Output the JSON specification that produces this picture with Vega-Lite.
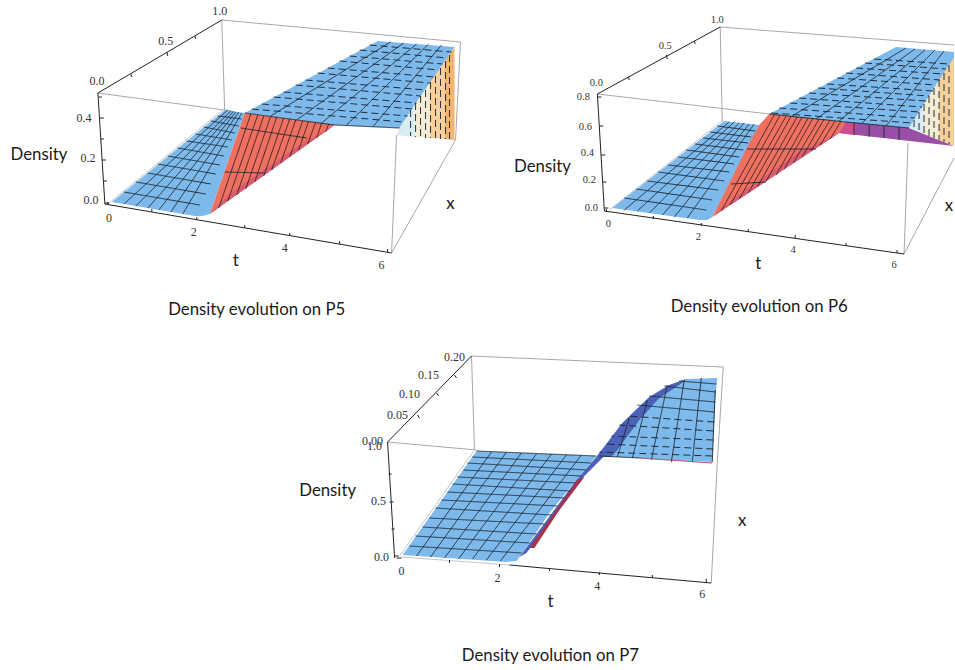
{"$schema":"https://vega.github.io/schema/vega-lite/v6.json","autosize":{"type":"fit","contains":"padding"},"width":955,"height":670,"padding":0,"background":"white","config":{"view":{"stroke":null}},
"resolve":{"scale":{"color":"independent"}},
"datasets":{
"frame":[
{"k":"box","x":98,"y":93,"x2":232,"y2":111},{"k":"box","x":222,"y":20,"x2":225,"y2":112},{"k":"box","x":222,"y":20,"x2":461,"y2":42},{"k":"box","x":461,"y":42,"x2":456,"y2":140},{"k":"box","x":392,"y":253,"x2":397,"y2":135},{"k":"box","x":392,"y":253,"x2":456,"y2":140},{"k":"edge","x":108,"y":204,"x2":224,"y2":109},{"k":"axis","x":105,"y":204,"x2":392,"y2":253},{"k":"axis","x":105,"y":204,"x2":98,"y2":93},{"k":"axis","x":98,"y":93,"x2":222,"y2":20},
{"k":"box","x":598,"y":94,"x2":770,"y2":114},{"k":"box","x":721,"y":27,"x2":723,"y2":122},{"k":"box","x":721,"y":27,"x2":955,"y2":45},{"k":"box","x":905,"y":254,"x2":909,"y2":143},{"k":"box","x":905,"y":254,"x2":955,"y2":158},{"k":"edge","x":610,"y":210,"x2":724,"y2":120},{"k":"axis","x":605,"y":211,"x2":905,"y2":254},{"k":"axis","x":605,"y":211,"x2":598,"y2":94},{"k":"axis","x":598,"y":94,"x2":721,"y2":27},
{"k":"box","x":388,"y":442,"x2":477,"y2":450},{"k":"box","x":472,"y":356,"x2":475,"y2":450},{"k":"box","x":472,"y":356,"x2":724,"y2":367},{"k":"box","x":724,"y":367,"x2":718,"y2":463},{"k":"box","x":712,"y":583,"x2":718,"y2":463},{"k":"edge","x":400,"y":556,"x2":475,"y2":450},{"k":"edge","x":402,"y":557,"x2":510,"y2":565},{"k":"axis","x":510,"y":565,"x2":712,"y2":583},{"k":"axis","x":397,"y":558,"x2":402,"y2":558},{"k":"axis","x":395,"y":558,"x2":388,"y2":442},{"k":"axis","x":388,"y":442,"x2":472,"y2":356},
{"k":"axis","x":108,"y":205,"x2":108,"y2":202},{"k":"axis","x":152,"y":212,"x2":152,"y2":209},{"k":"axis","x":197,"y":220,"x2":197,"y2":217},{"k":"axis","x":245,"y":228,"x2":245,"y2":225},{"k":"axis","x":290,"y":236,"x2":290,"y2":233},{"k":"axis","x":340,"y":244,"x2":340,"y2":241},{"k":"axis","x":388,"y":252,"x2":388,"y2":249},
{"k":"axis","x":105,"y":203,"x2":109,"y2":203},{"k":"axis","x":104,"y":181,"x2":107,"y2":181},{"k":"axis","x":102,"y":160,"x2":106,"y2":160},{"k":"axis","x":101,"y":139,"x2":104,"y2":139},{"k":"axis","x":100,"y":118,"x2":104,"y2":118},{"k":"axis","x":99,"y":97,"x2":102,"y2":97},
{"k":"axis","x":131,"y":74,"x2":132,"y2":77},{"k":"axis","x":167,"y":52,"x2":168,"y2":56},{"k":"axis","x":195,"y":36,"x2":196,"y2":39},
{"k":"axis","x":607,"y":212,"x2":607,"y2":209},{"k":"axis","x":654,"y":219,"x2":654,"y2":216},{"k":"axis","x":702,"y":226,"x2":702,"y2":223},{"k":"axis","x":749,"y":232,"x2":749,"y2":229},{"k":"axis","x":796,"y":238,"x2":796,"y2":235},{"k":"axis","x":847,"y":246,"x2":847,"y2":243},{"k":"axis","x":898,"y":253,"x2":898,"y2":250},
{"k":"axis","x":605,"y":208,"x2":609,"y2":208},{"k":"axis","x":603,"y":182,"x2":607,"y2":182},{"k":"axis","x":602,"y":155,"x2":606,"y2":155},{"k":"axis","x":600,"y":126,"x2":604,"y2":126},{"k":"axis","x":598,"y":97,"x2":602,"y2":97},
{"k":"axis","x":629,"y":77,"x2":630,"y2":80},{"k":"axis","x":667,"y":55,"x2":668,"y2":59},{"k":"axis","x":695,"y":41,"x2":696,"y2":44},
{"k":"axis","x":450,"y":563,"x2":450,"y2":560},{"k":"axis","x":500,"y":567,"x2":500,"y2":564},{"k":"axis","x":550,"y":571,"x2":550,"y2":568},{"k":"axis","x":600,"y":575,"x2":600,"y2":572},{"k":"axis","x":653,"y":578,"x2":653,"y2":575},{"k":"axis","x":707,"y":582,"x2":707,"y2":579},
{"k":"axis","x":395,"y":556,"x2":399,"y2":556},{"k":"axis","x":392,"y":529,"x2":395,"y2":529},{"k":"axis","x":390,"y":502,"x2":394,"y2":502},{"k":"axis","x":389,"y":474,"x2":392,"y2":474},
{"k":"axis","x":418,"y":415,"x2":420,"y2":418},{"k":"axis","x":437,"y":393,"x2":439,"y2":396},{"k":"axis","x":455,"y":375,"x2":457,"y2":378}
],
"polys":[
{"id":"a1","z":"blue","o":1,"x":112,"y":202},{"id":"a1","z":"blue","o":2,"x":225,"y":110},{"id":"a1","z":"blue","o":3,"x":245,"y":113},{"id":"a1","z":"blue","o":4,"x":210,"y":214},{"id":"a1","z":"blue","o":5,"x":203,"y":216},{"id":"a1","z":"blue","o":6,"x":195,"y":216},
{"id":"a2","z":"blue","o":1,"x":245,"y":113},{"id":"a2","z":"blue","o":2,"x":378,"y":41},{"id":"a2","z":"blue","o":3,"x":455,"y":47},{"id":"a2","z":"blue","o":4,"x":400,"y":128},{"id":"a2","z":"blue","o":5,"x":335,"y":125},
{"id":"a3","z":"red","o":1,"x":245,"y":113},{"id":"a3","z":"red","o":2,"x":335,"y":125},{"id":"a3","z":"red","o":3,"x":210,"y":214},
{"id":"a4","z":"pink","o":1,"x":210,"y":214},{"id":"a4","z":"pink","o":2,"x":232,"y":192},{"id":"a4","z":"pink","o":3,"x":300,"y":145},{"id":"a4","z":"pink","o":4,"x":335,"y":125},
{"id":"a5","z":"pale","o":1,"x":400,"y":128},{"id":"a5","z":"pale","o":2,"x":415,"y":105},{"id":"a5","z":"pale","o":3,"x":415,"y":137},{"id":"a5","z":"pale","o":4,"x":397,"y":135},
{"id":"a6","z":"cream","o":1,"x":415,"y":105},{"id":"a6","z":"cream","o":2,"x":430,"y":83},{"id":"a6","z":"cream","o":3,"x":430,"y":138},{"id":"a6","z":"cream","o":4,"x":415,"y":137},
{"id":"a7","z":"peach","o":1,"x":430,"y":83},{"id":"a7","z":"peach","o":2,"x":445,"y":62},{"id":"a7","z":"peach","o":3,"x":445,"y":139},{"id":"a7","z":"peach","o":4,"x":430,"y":138},
{"id":"a8","z":"orange","o":1,"x":445,"y":62},{"id":"a8","z":"orange","o":2,"x":455,"y":47},{"id":"a8","z":"orange","o":3,"x":455,"y":140},{"id":"a8","z":"orange","o":4,"x":445,"y":139},
{"id":"b1","z":"blue","o":1,"x":613,"y":208},{"id":"b1","z":"blue","o":2,"x":725,"y":121},{"id":"b1","z":"blue","o":3,"x":760,"y":125},{"id":"b1","z":"blue","o":4,"x":713,"y":217},{"id":"b1","z":"blue","o":5,"x":708,"y":220},{"id":"b1","z":"blue","o":6,"x":700,"y":220},
{"id":"b2","z":"blue","o":1,"x":770,"y":114},{"id":"b2","z":"blue","o":2,"x":897,"y":47},{"id":"b2","z":"blue","o":3,"x":955,"y":52},{"id":"b2","z":"blue","o":4,"x":955,"y":58},{"id":"b2","z":"blue","o":5,"x":910,"y":128},{"id":"b2","z":"blue","o":6,"x":847,"y":122},
{"id":"b3","z":"red","o":1,"x":713,"y":217},{"id":"b3","z":"red","o":2,"x":750,"y":143},{"id":"b3","z":"red","o":3,"x":760,"y":125},{"id":"b3","z":"red","o":4,"x":770,"y":114},{"id":"b3","z":"red","o":5,"x":847,"y":122},{"id":"b3","z":"red","o":6,"x":840,"y":133},
{"id":"b4","z":"pink","o":1,"x":713,"y":217},{"id":"b4","z":"pink","o":2,"x":735,"y":198},{"id":"b4","z":"pink","o":3,"x":800,"y":152},{"id":"b4","z":"pink","o":4,"x":840,"y":133},
{"id":"b5","z":"purple","o":1,"x":840,"y":133},{"id":"b5","z":"purple","o":2,"x":847,"y":122},{"id":"b5","z":"purple","o":3,"x":910,"y":128},{"id":"b5","z":"purple","o":4,"x":955,"y":146},{"id":"b5","z":"purple","o":5,"x":955,"y":146},
{"id":"b6","z":"magenta","o":1,"x":840,"y":133},{"id":"b6","z":"magenta","o":2,"x":847,"y":122},{"id":"b6","z":"magenta","o":3,"x":858,"y":123},{"id":"b6","z":"magenta","o":4,"x":855,"y":135},
{"id":"b7","z":"pale","o":1,"x":910,"y":128},{"id":"b7","z":"pale","o":2,"x":925,"y":104},{"id":"b7","z":"pale","o":3,"x":925,"y":134},
{"id":"b8","z":"cream","o":1,"x":925,"y":104},{"id":"b8","z":"cream","o":2,"x":940,"y":80},{"id":"b8","z":"cream","o":3,"x":940,"y":140},{"id":"b8","z":"cream","o":4,"x":925,"y":134},
{"id":"b9","z":"peach","o":1,"x":940,"y":80},{"id":"b9","z":"peach","o":2,"x":955,"y":58},{"id":"b9","z":"peach","o":3,"x":955,"y":146},{"id":"b9","z":"peach","o":4,"x":940,"y":140},
{"id":"c1","z":"blue","o":1,"x":403,"y":555},{"id":"c1","z":"blue","o":2,"x":477,"y":451},{"id":"c1","z":"blue","o":3,"x":597,"y":456},{"id":"c1","z":"blue","o":4,"x":577,"y":480},{"id":"c1","z":"blue","o":5,"x":550,"y":513},{"id":"c1","z":"blue","o":6,"x":523,"y":553},{"id":"c1","z":"blue","o":7,"x":517,"y":561},{"id":"c1","z":"blue","o":8,"x":507,"y":562},
{"id":"c2","z":"blue","o":1,"x":597,"y":457},{"id":"c2","z":"blue","o":2,"x":623,"y":423},{"id":"c2","z":"blue","o":3,"x":650,"y":397},{"id":"c2","z":"blue","o":4,"x":670,"y":385},{"id":"c2","z":"blue","o":5,"x":687,"y":379},{"id":"c2","z":"blue","o":6,"x":718,"y":378},{"id":"c2","z":"blue","o":7,"x":716,"y":400},{"id":"c2","z":"blue","o":8,"x":713,"y":462},{"id":"c2","z":"blue","o":9,"x":617,"y":457},
{"id":"c3","z":"indigo","o":1,"x":597,"y":457},{"id":"c3","z":"indigo","o":2,"x":623,"y":423},{"id":"c3","z":"indigo","o":3,"x":650,"y":397},{"id":"c3","z":"indigo","o":4,"x":670,"y":385},{"id":"c3","z":"indigo","o":5,"x":687,"y":379},{"id":"c3","z":"indigo","o":6,"x":680,"y":385},{"id":"c3","z":"indigo","o":7,"x":660,"y":398},{"id":"c3","z":"indigo","o":8,"x":640,"y":420},{"id":"c3","z":"indigo","o":9,"x":618,"y":450},{"id":"c3","z":"indigo","o":10,"x":612,"y":457},
{"id":"c4","z":"indigo","o":1,"x":520,"y":557},{"id":"c4","z":"indigo","o":2,"x":577,"y":480},{"id":"c4","z":"indigo","o":3,"x":597,"y":457},{"id":"c4","z":"indigo","o":4,"x":604,"y":457},{"id":"c4","z":"indigo","o":5,"x":585,"y":476},{"id":"c4","z":"indigo","o":6,"x":556,"y":515},{"id":"c4","z":"indigo","o":7,"x":527,"y":553},
{"id":"c5","z":"crimson","o":1,"x":530,"y":548},{"id":"c5","z":"crimson","o":2,"x":578,"y":480},{"id":"c5","z":"crimson","o":3,"x":585,"y":477},{"id":"c5","z":"crimson","o":4,"x":560,"y":510},{"id":"c5","z":"crimson","o":5,"x":535,"y":548}
],
"mesh":[
{"k":"solid","x":124,"y":192,"x2":200,"y2":205},{"k":"solid","x":136,"y":182,"x2":206,"y2":194},{"k":"solid","x":148,"y":173,"x2":211,"y2":184},{"k":"solid","x":158,"y":164,"x2":216,"y2":174},{"k":"solid","x":168,"y":156,"x2":220,"y2":165},{"k":"solid","x":178,"y":148,"x2":224,"y2":156},{"k":"solid","x":187,"y":141,"x2":228,"y2":147},{"k":"solid","x":196,"y":134,"x2":232,"y2":140},{"k":"solid","x":204,"y":127,"x2":235,"y2":133},{"k":"solid","x":211,"y":121,"x2":239,"y2":126},{"k":"solid","x":218,"y":116,"x2":242,"y2":119},
{"k":"solid","x":124,"y":204,"x2":228,"y2":110},{"k":"solid","x":136,"y":206,"x2":231,"y2":111},{"k":"solid","x":148,"y":208,"x2":234,"y2":111},{"k":"solid","x":159,"y":210,"x2":236,"y2":112},{"k":"solid","x":171,"y":212,"x2":239,"y2":112},{"k":"solid","x":183,"y":214,"x2":242,"y2":113},
{"k":"dash","x":252,"y":109,"x2":404,"y2":122},{"k":"dash","x":262,"y":104,"x2":408,"y2":116},{"k":"dash","x":274,"y":97,"x2":413,"y2":109},{"k":"dash","x":284,"y":92,"x2":417,"y2":103},{"k":"dash","x":296,"y":85,"x2":421,"y2":96},{"k":"dash","x":306,"y":80,"x2":426,"y2":90},{"k":"dash","x":318,"y":73,"x2":430,"y2":83},{"k":"dash","x":328,"y":68,"x2":435,"y2":77},{"k":"dash","x":340,"y":61,"x2":439,"y2":70},{"k":"dash","x":350,"y":56,"x2":443,"y2":64},{"k":"dash","x":360,"y":50,"x2":448,"y2":58},{"k":"dash","x":370,"y":45,"x2":452,"y2":52},
{"k":"solid","x":271,"y":116,"x2":391,"y2":42},{"k":"solid","x":297,"y":120,"x2":404,"y2":43},{"k":"solid","x":322,"y":123,"x2":417,"y2":44},{"k":"solid","x":346,"y":126,"x2":429,"y2":44},{"k":"solid","x":373,"y":127,"x2":442,"y2":45},
{"k":"thin","x":251,"y":114,"x2":219,"y2":208},{"k":"thin","x":258,"y":115,"x2":228,"y2":201},{"k":"thin","x":264,"y":116,"x2":237,"y2":195},{"k":"thin","x":271,"y":116,"x2":246,"y2":189},{"k":"thin","x":277,"y":117,"x2":255,"y2":182},{"k":"thin","x":284,"y":118,"x2":264,"y2":176},{"k":"thin","x":290,"y":119,"x2":272,"y2":170},{"k":"thin","x":296,"y":120,"x2":281,"y2":163},{"k":"thin","x":303,"y":121,"x2":290,"y2":157},{"k":"thin","x":309,"y":121,"x2":299,"y2":150},{"k":"thin","x":316,"y":122,"x2":308,"y2":144},{"k":"thin","x":322,"y":123,"x2":317,"y2":138},{"k":"thin","x":329,"y":124,"x2":326,"y2":132},
{"k":"solid","x":245,"y":113,"x2":335,"y2":125},{"k":"solid","x":241,"y":128,"x2":307,"y2":138},{"k":"solid","x":225,"y":172,"x2":265,"y2":173},{"k":"solid","x":335,"y":125,"x2":400,"y2":128},
{"k":"dash","x":411,"y":110,"x2":411,"y2":136},{"k":"dash","x":416,"y":103,"x2":416,"y2":137},{"k":"dash","x":421,"y":96,"x2":421,"y2":137},{"k":"dash","x":426,"y":90,"x2":426,"y2":138},{"k":"dash","x":431,"y":82,"x2":431,"y2":138},{"k":"dash","x":436,"y":76,"x2":436,"y2":138},{"k":"dash","x":441,"y":68,"x2":441,"y2":139},{"k":"dash","x":446,"y":61,"x2":446,"y2":139},{"k":"dash","x":450,"y":55,"x2":450,"y2":139},
{"k":"solid","x":625,"y":198,"x2":707,"y2":210},{"k":"solid","x":637,"y":189,"x2":713,"y2":200},{"k":"solid","x":648,"y":181,"x2":719,"y2":190},{"k":"solid","x":659,"y":172,"x2":725,"y2":181},{"k":"solid","x":669,"y":165,"x2":730,"y2":172},{"k":"solid","x":679,"y":157,"x2":735,"y2":164},{"k":"solid","x":687,"y":150,"x2":740,"y2":157},{"k":"solid","x":696,"y":144,"x2":744,"y2":150},{"k":"solid","x":704,"y":138,"x2":749,"y2":143},{"k":"solid","x":711,"y":132,"x2":752,"y2":137},{"k":"solid","x":718,"y":126,"x2":756,"y2":131},
{"k":"solid","x":625,"y":210,"x2":730,"y2":122},{"k":"solid","x":638,"y":211,"x2":735,"y2":122},{"k":"solid","x":650,"y":213,"x2":740,"y2":123},{"k":"solid","x":663,"y":215,"x2":745,"y2":123},{"k":"solid","x":675,"y":217,"x2":750,"y2":124},{"k":"solid","x":688,"y":218,"x2":755,"y2":124},
{"k":"thin","x":775,"y":115,"x2":722,"y2":211},{"k":"thin","x":781,"y":115,"x2":731,"y2":205},{"k":"thin","x":787,"y":116,"x2":740,"y2":199},{"k":"thin","x":792,"y":116,"x2":749,"y2":193},{"k":"thin","x":798,"y":117,"x2":758,"y2":187},{"k":"thin","x":803,"y":117,"x2":767,"y2":181},{"k":"thin","x":809,"y":118,"x2":777,"y2":175},{"k":"thin","x":814,"y":118,"x2":785,"y2":169},{"k":"thin","x":820,"y":119,"x2":794,"y2":163},{"k":"thin","x":825,"y":119,"x2":803,"y2":157},{"k":"thin","x":831,"y":120,"x2":812,"y2":151},{"k":"thin","x":836,"y":121,"x2":821,"y2":145},{"k":"thin","x":842,"y":121,"x2":831,"y2":139},
{"k":"solid","x":770,"y":114,"x2":847,"y2":122},{"k":"solid","x":748,"y":149,"x2":817,"y2":149},{"k":"solid","x":732,"y":184,"x2":767,"y2":182},{"k":"solid","x":847,"y":122,"x2":910,"y2":128},
{"k":"dash","x":772,"y":113,"x2":913,"y2":123},{"k":"dash","x":780,"y":108,"x2":916,"y2":118},{"k":"dash","x":791,"y":103,"x2":920,"y2":112},{"k":"dash","x":800,"y":98,"x2":923,"y2":107},{"k":"dash","x":810,"y":93,"x2":927,"y2":101},{"k":"dash","x":819,"y":88,"x2":930,"y2":96},{"k":"dash","x":828,"y":84,"x2":934,"y2":91},{"k":"dash","x":838,"y":78,"x2":937,"y2":85},{"k":"dash","x":847,"y":73,"x2":941,"y2":80},{"k":"dash","x":857,"y":68,"x2":944,"y2":74},{"k":"dash","x":866,"y":63,"x2":947,"y2":69},{"k":"dash","x":875,"y":59,"x2":950,"y2":64},
{"k":"solid","x":793,"y":116,"x2":907,"y2":48},{"k":"solid","x":817,"y":119,"x2":916,"y2":49},{"k":"solid","x":840,"y":121,"x2":926,"y2":50},{"k":"solid","x":863,"y":123,"x2":936,"y2":50},{"k":"solid","x":887,"y":126,"x2":945,"y2":51},
{"k":"solid","x":855,"y":123,"x2":855,"y2":135},{"k":"solid","x":870,"y":125,"x2":870,"y2":137},{"k":"solid","x":885,"y":126,"x2":885,"y2":138},{"k":"solid","x":900,"y":127,"x2":900,"y2":140},
{"k":"dash","x":915,"y":120,"x2":915,"y2":130},{"k":"dash","x":920,"y":112,"x2":920,"y2":132},{"k":"dash","x":925,"y":104,"x2":925,"y2":134},{"k":"dash","x":930,"y":96,"x2":930,"y2":136},{"k":"dash","x":935,"y":88,"x2":935,"y2":138},{"k":"dash","x":940,"y":80,"x2":940,"y2":140},{"k":"dash","x":945,"y":73,"x2":945,"y2":142},{"k":"dash","x":950,"y":65,"x2":950,"y2":144},
{"k":"solid","x":410,"y":546,"x2":522,"y2":553},{"k":"solid","x":416,"y":536,"x2":530,"y2":543},{"k":"solid","x":423,"y":527,"x2":537,"y2":534},{"k":"solid","x":430,"y":518,"x2":545,"y2":524},{"k":"solid","x":436,"y":508,"x2":552,"y2":515},{"k":"solid","x":442,"y":500,"x2":558,"y2":506},{"k":"solid","x":448,"y":492,"x2":565,"y2":498},{"k":"solid","x":453,"y":484,"x2":571,"y2":491},{"k":"solid","x":458,"y":477,"x2":576,"y2":483},{"k":"solid","x":464,"y":470,"x2":582,"y2":476},{"k":"solid","x":468,"y":463,"x2":587,"y2":470},{"k":"solid","x":473,"y":457,"x2":592,"y2":463},
{"k":"solid","x":417,"y":556,"x2":492,"y2":452},{"k":"solid","x":431,"y":557,"x2":507,"y2":452},{"k":"solid","x":445,"y":558,"x2":522,"y2":453},{"k":"solid","x":459,"y":559,"x2":537,"y2":454},{"k":"solid","x":473,"y":559,"x2":552,"y2":454},{"k":"solid","x":487,"y":560,"x2":567,"y2":455},{"k":"solid","x":501,"y":561,"x2":582,"y2":455},
{"k":"solid","x":717,"y":384,"x2":680,"y2":381},{"k":"solid","x":716,"y":392,"x2":665,"y2":386},{"k":"solid","x":716,"y":402,"x2":650,"y2":396},{"k":"solid","x":715,"y":412,"x2":638,"y2":405},{"k":"dash","x":715,"y":422,"x2":628,"y2":416},{"k":"dash","x":714,"y":431,"x2":620,"y2":425},{"k":"dash","x":714,"y":440,"x2":612,"y2":436},{"k":"dash","x":714,"y":449,"x2":606,"y2":444},{"k":"dash","x":713,"y":456,"x2":600,"y2":452},
{"k":"solid","x":702,"y":378,"x2":693,"y2":462},{"k":"solid","x":685,"y":380,"x2":672,"y2":462},{"k":"solid","x":668,"y":385,"x2":652,"y2":460},{"k":"solid","x":648,"y":400,"x2":633,"y2":458},{"k":"solid","x":630,"y":418,"x2":618,"y2":457},
{"k":"solid","x":716,"y":390,"x2":713,"y2":462},{"k":"solid","x":600,"y":456,"x2":640,"y2":458},{"k":"solid","x":477,"y":451,"x2":597,"y2":456},
{"k":"crimson","x":640,"y":458,"x2":713,"y2":463}
],
"labels":[
{"t":"1.0","f":"big","x":220,"y":11},{"t":"0.5","f":"big","x":166,"y":41},{"t":"0.0","f":"big","x":97,"y":81},{"t":"0.4","f":"big","x":84,"y":118},{"t":"0.2","f":"big","x":88,"y":158},{"t":"0.0","f":"big","x":91,"y":200},{"t":"0","f":"big","x":109,"y":218},{"t":"2","f":"big","x":194,"y":232},{"t":"4","f":"big","x":285,"y":248},{"t":"6","f":"big","x":382,"y":265},
{"t":"1.0","f":"tick","x":718,"y":20},{"t":"0.5","f":"tick","x":666,"y":46},{"t":"0.0","f":"tick","x":597,"y":83},{"t":"0.8","f":"tick","x":584,"y":97},{"t":"0.6","f":"tick","x":586,"y":127},{"t":"0.4","f":"tick","x":588,"y":153},{"t":"0.2","f":"tick","x":590,"y":180},{"t":"0.0","f":"tick","x":592,"y":208},{"t":"0","f":"tick","x":609,"y":224},{"t":"2","f":"tick","x":699,"y":237},{"t":"4","f":"tick","x":794,"y":250},{"t":"6","f":"tick","x":895,"y":265},
{"t":"0.20","f":"big","x":455,"y":357},{"t":"0.15","f":"big","x":429,"y":375},{"t":"0.10","f":"big","x":410,"y":394},{"t":"0.05","f":"big","x":398,"y":415},{"t":"0.00","f":"big","x":373,"y":441},{"t":"1.0","f":"big","x":375,"y":446},{"t":"0.5","f":"big","x":379,"y":501},{"t":"0.0","f":"big","x":382,"y":557},{"t":"0","f":"big","x":402,"y":571},{"t":"2","f":"big","x":498,"y":578},{"t":"4","f":"big","x":598,"y":586},{"t":"6","f":"big","x":703,"y":594},
{"t":"Density","f":"sans","x":39,"y":155},{"t":"t","f":"sans","x":236,"y":261},{"t":"x","f":"sans","x":451,"y":204},{"t":"Density evolution on P5","f":"sans","x":257,"y":310},
{"t":"Density","f":"sans","x":543,"y":167},{"t":"t","f":"sans","x":759,"y":264},{"t":"x","f":"sans","x":950,"y":206},{"t":"Density evolution on P6","f":"sans","x":760,"y":307},
{"t":"Density","f":"sans","x":328,"y":491},{"t":"t","f":"sans","x":551,"y":602},{"t":"x","f":"sans","x":743,"y":521},{"t":"Density evolution on P7","f":"sans","x":551,"y":656}
]},
"encoding":{"x":{"field":"x","type":"quantitative","scale":{"domain":[0,955],"nice":false,"zero":false},"axis":null},"y":{"field":"y","type":"quantitative","scale":{"domain":[670,0],"nice":false,"zero":false},"axis":null}},
"layer":[
{"data":{"name":"frame"},"mark":{"type":"rule","strokeWidth":1},"encoding":{"x2":{"field":"x2"},"y2":{"field":"y2"},"color":{"field":"k","type":"nominal","scale":{"domain":["box","edge","axis"],"range":["#a8a8a8","#c4c4c4","#222222"]},"legend":null}}},
{"data":{"name":"polys"},"mark":{"type":"line","filled":true,"strokeWidth":0},"encoding":{"detail":{"field":"id"},"order":{"field":"o","type":"quantitative"},"color":{"field":"z","type":"nominal","scale":{"domain":["blue","red","pink","pale","cream","peach","orange","purple","magenta","indigo","crimson"],"range":["#7db9ea","#ee7061","#d95b6e","#d8ecf2","#f4ecd4","#f8d09c","#f2b46e","#9a4fa6","#cc4f8c","#4c62b8","#a8324a"]},"legend":null}}},
{"data":{"name":"mesh"},"mark":{"type":"rule"},"encoding":{"x2":{"field":"x2"},"y2":{"field":"y2"},"color":{"field":"k","type":"nominal","scale":{"domain":["solid","dash","thin","crimson"],"range":["#1a2430","#1a2430","#3a2020","#a8325a"]},"legend":null},"strokeDash":{"field":"k","type":"nominal","scale":{"domain":["solid","dash","thin","crimson"],"range":[[1,0],[7,4],[1,0],[1,0]]},"legend":null},"strokeWidth":{"field":"k","type":"nominal","scale":{"domain":["solid","dash","thin","crimson"],"range":[0.9,1,0.8,2]},"legend":null}}},
{"data":{"name":"labels"},"transform":[{"filter":"datum.f==='big'"}],"mark":{"type":"text","font":"Liberation Serif","fontSize":12,"color":"#333333","align":"center","baseline":"middle"},"encoding":{"text":{"field":"t"}}},
{"data":{"name":"labels"},"transform":[{"filter":"datum.f==='tick'"}],"mark":{"type":"text","font":"Liberation Serif","fontSize":10.5,"color":"#333333","align":"center","baseline":"middle"},"encoding":{"text":{"field":"t"}}},
{"data":{"name":"labels"},"transform":[{"filter":"datum.f==='sans'"}],"mark":{"type":"text","font":"Lato","fontSize":16.8,"color":"#1a1a1a","align":"center","baseline":"middle"},"encoding":{"text":{"field":"t"}}}
]}
